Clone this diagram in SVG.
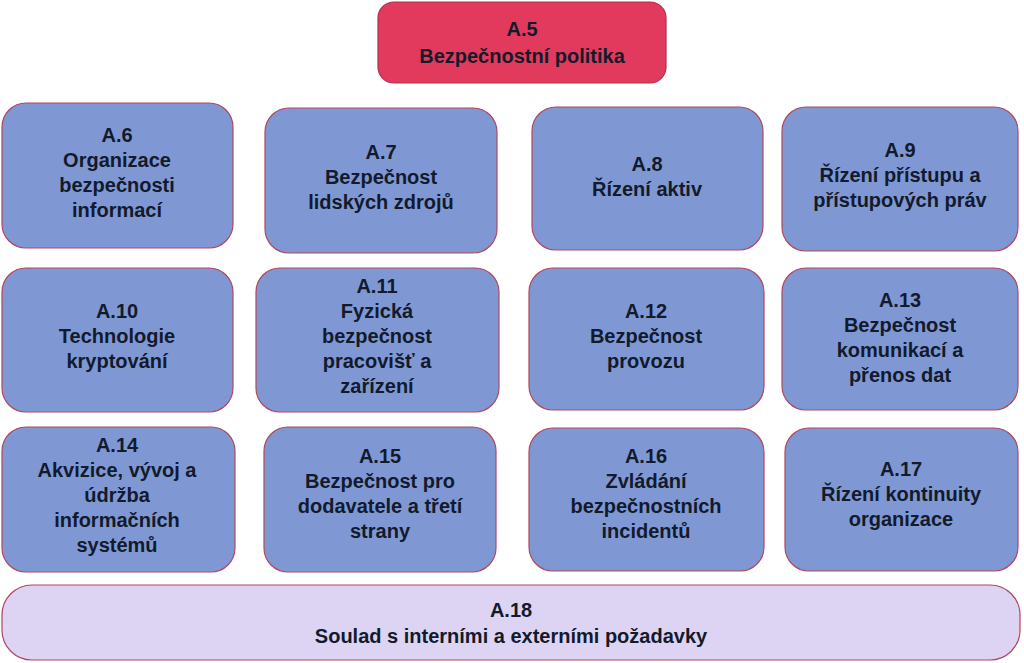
<svg xmlns="http://www.w3.org/2000/svg" width="1024" height="663" viewBox="0 0 1024 663">
<style>
.b{fill:#7F98D3;stroke:#B0485F;stroke-width:1.2}
.r{fill:#E13A5C;stroke:#B0304F;stroke-width:1.2}
.l{fill:#DCD4F2;stroke:#B0485F;stroke-width:1.2}
text{font-family:"Liberation Sans",Arial,sans-serif;font-weight:bold;font-size:20px;fill:#121a2c;text-anchor:middle}
</style>
<rect width="1024" height="663" fill="#fff"/>
<g id="a5"><rect class="r" x="378" y="2" width="288" height="81" rx="16"/><text x="522" y="36">A.5</text><text x="522" y="63">Bezpečnostní politika</text></g>
<g id="a6"><rect class="b" x="2" y="103" width="231" height="145" rx="24"/><text x="117" y="142">A.6</text><text x="117" y="167">Organizace</text><text x="117" y="192">bezpečnosti</text><text x="117" y="217">informací</text></g>
<g id="a7"><rect class="b" x="265" y="108" width="232" height="145" rx="24"/><text x="381" y="159">A.7</text><text x="381" y="184">Bezpečnost</text><text x="381" y="209">lidských zdrojů</text></g>
<g id="a8"><rect class="b" x="532" y="107" width="231" height="143" rx="24"/><text x="647" y="171">A.8</text><text x="647" y="196">Řízení aktiv</text></g>
<g id="a9"><rect class="b" x="782" y="107" width="236" height="144" rx="24"/><text x="900" y="157">A.9</text><text x="900" y="182">Řízení přístupu a</text><text x="900" y="207">přístupových práv</text></g>
<g id="a10"><rect class="b" x="2" y="268" width="231" height="144" rx="24"/><text x="117" y="318">A.10</text><text x="117" y="343">Technologie</text><text x="117" y="368">kryptování</text></g>
<g id="a11"><rect class="b" x="256" y="268" width="243" height="144" rx="24"/><text x="377" y="293">A.11</text><text x="377" y="318">Fyzická</text><text x="377" y="343">bezpečnost</text><text x="377" y="368">pracovišť a</text><text x="377" y="393">zařízení</text></g>
<g id="a12"><rect class="b" x="529" y="268" width="235" height="142" rx="24"/><text x="646" y="318">A.12</text><text x="646" y="343">Bezpečnost</text><text x="646" y="368">provozu</text></g>
<g id="a13"><rect class="b" x="782" y="268" width="236" height="142" rx="24"/><text x="900" y="307">A.13</text><text x="900" y="332">Bezpečnost</text><text x="900" y="357">komunikací a</text><text x="900" y="382">přenos dat</text></g>
<g id="a14"><rect class="b" x="2" y="427" width="233" height="145" rx="24"/><text x="117" y="452">A.14</text><text x="117" y="477">Akvizice, vývoj a</text><text x="117" y="502">údržba</text><text x="117" y="527">informačních</text><text x="117" y="552">systémů</text></g>
<g id="a15"><rect class="b" x="264" y="427" width="232" height="145" rx="24"/><text x="380" y="463">A.15</text><text x="380" y="488">Bezpečnost pro</text><text x="380" y="513">dodavatele a třetí</text><text x="380" y="538">strany</text></g>
<g id="a16"><rect class="b" x="529" y="428" width="235" height="143" rx="24"/><text x="646" y="463">A.16</text><text x="646" y="488">Zvládání</text><text x="646" y="513">bezpečnostních</text><text x="646" y="538">incidentů</text></g>
<g id="a17"><rect class="b" x="785" y="428" width="233" height="143" rx="24"/><text x="901" y="476">A.17</text><text x="901" y="501">Řízení kontinuity</text><text x="901" y="526">organizace</text></g>
<g id="a18"><rect class="l" x="2" y="585" width="1018" height="75" rx="30"/><text x="511" y="617">A.18</text><text x="511" y="643">Soulad s interními a externími požadavky</text></g>
<g id="connectors"></g>
</svg>
